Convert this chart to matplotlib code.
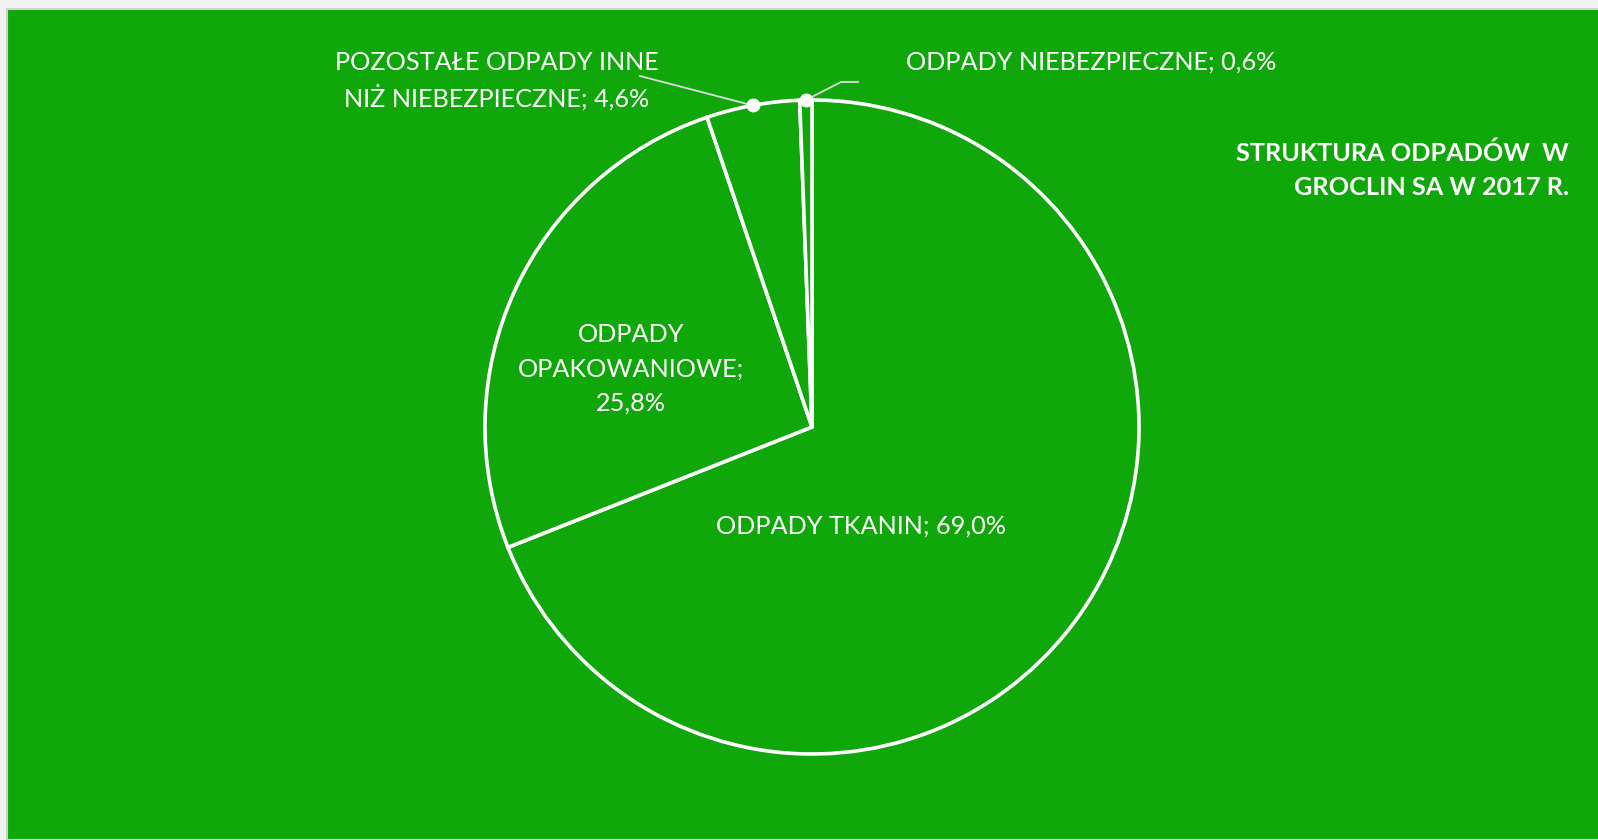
import matplotlib.pyplot as plt
from matplotlib.patches import Rectangle
import numpy as np

# data
categories = ['ODPADY TKANIN', 'ODPADY OPAKOWANIOWE',
              'POZOSTAŁE ODPADY INNE NIŻ NIEBEZPIECZNE', 'ODPADY NIEBEZPIECZNE']
shares = [69.0, 25.8, 4.6, 0.6]
label_texts = ['ODPADY TKANIN; 69,0%',
               'ODPADY\nOPAKOWANIOWE;\n25,8%',
               'POZOSTAŁE ODPADY INNE\nNIŻ NIEBEZPIECZNE; 4,6%',
               'ODPADY NIEBEZPIECZNE; 0,6%']
title = 'STRUKTURA ODPADÓW  W\nGROCLIN SA W 2017 R.'

green = '#10a70a'
W, H = 1598, 840
dpi = 100
plt.rcParams['font.family'] = ['Lato', 'DejaVu Sans']

fig = plt.figure(figsize=(W / dpi, H / dpi), dpi=dpi, facecolor='#f2f2f2')
fig.patches.append(Rectangle((7 / W, 0), 1, 1 - 9 / H, transform=fig.transFigure,
                             facecolor=green, edgecolor='#d0d0d0', lw=1.5, zorder=-10))
ax = fig.add_axes([0, 0, 1, 1])
ax.set_facecolor('none')
ax.set_zorder(5)

cx, cy, r = 812, H - 427, 327
wedges, _ = ax.pie(shares, colors=[green] * 4, startangle=90, counterclock=False,
                   center=(cx, cy), radius=r,
                   wedgeprops=dict(edgecolor='white', linewidth=2.6))
ax.set_xlim(0, W)
ax.set_ylim(0, H)
ax.set_aspect('equal')
ax.axis('off')

# mid angles of each slice (degrees, math convention)
cum = np.cumsum([0] + shares)
mids = [90 - 3.6 * (cum[i] + cum[i + 1]) / 2 for i in range(len(shares))]

def edge_pt(i, f=1.0):
    a = np.radians(mids[i])
    return cx + f * r * np.cos(a), cy + f * r * np.sin(a)

fs = 18.2
# inside labels
ax.text(861, H - 526, label_texts[0], color='white', fontsize=fs, ha='center', va='center')
ax.text(631, H - 369, label_texts[1], color='white', fontsize=fs, ha='center', va='center',
        linespacing=1.6)

# outside labels with leader lines
px, py = edge_pt(2)
ax.plot([640, px], [H - 76, py], color='#dcdcdc', lw=1.3)
ax.plot(px, py, 'o', color='white', ms=9)
ax.text(497, H - 81, label_texts[2], color='white', fontsize=fs, ha='center', va='center',
        linespacing=1.45)

px, py = edge_pt(3)
ax.plot([px, 841, 858], [py, H - 82, H - 82], color='#dcdcdc', lw=1.3)
ax.plot(px, py, 'o', color='white', ms=9)
ax.text(1091, H - 62, label_texts[3], color='white', fontsize=fs, ha='center', va='center')

# title
ax.text(1569, H - 170, title, color='white', fontsize=fs, fontweight='bold',
        ha='right', va='center', linespacing=1.6)

fig.savefig('out.png', dpi=dpi, facecolor=fig.get_facecolor())
